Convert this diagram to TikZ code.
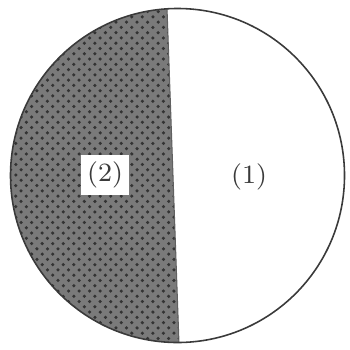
\documentclass[tikz,border=0pt]{standalone}
\usepackage{tikz}
\usetikzlibrary{patterns,calc}
\definecolor{Ink}{HTML}{3A3A3A}
\definecolor{Shade}{HTML}{7A7A7A}

\begin{document}
\begin{tikzpicture}[x=1cm,y=1cm]
\path[use as bounding box] (0,0) rectangle (3.50,3.49);
\tikzset{
  lab/.style={font=\fontsize{7.5}{9}\selectfont,inner sep=1.8pt,text=Ink},
}
% dial
\coordinate (c) at (1.775,1.735);
\coordinate (top) at ($(c)+(93.6:1.67)$);
\coordinate (bot) at ($(c)+(270.5:1.67)$);
\fill[Shade] (top) arc[start angle=93.6,end angle=270.5,radius=1.67] -- cycle;
\fill[pattern=crosshatch dots,pattern color=black!80] (top) arc[start angle=93.6,end angle=270.5,radius=1.67] -- cycle;
\draw[Ink!80,line width=0.3pt] (top) -- (bot);
\draw[Ink,line width=0.45pt] (c) circle (1.67);

% labels
\node[lab] (one) at (2.49,1.72) {(1)};
\node[lab,fill=white] (two) at (1.05,1.74) {(2)};
\end{tikzpicture}
\end{document}
